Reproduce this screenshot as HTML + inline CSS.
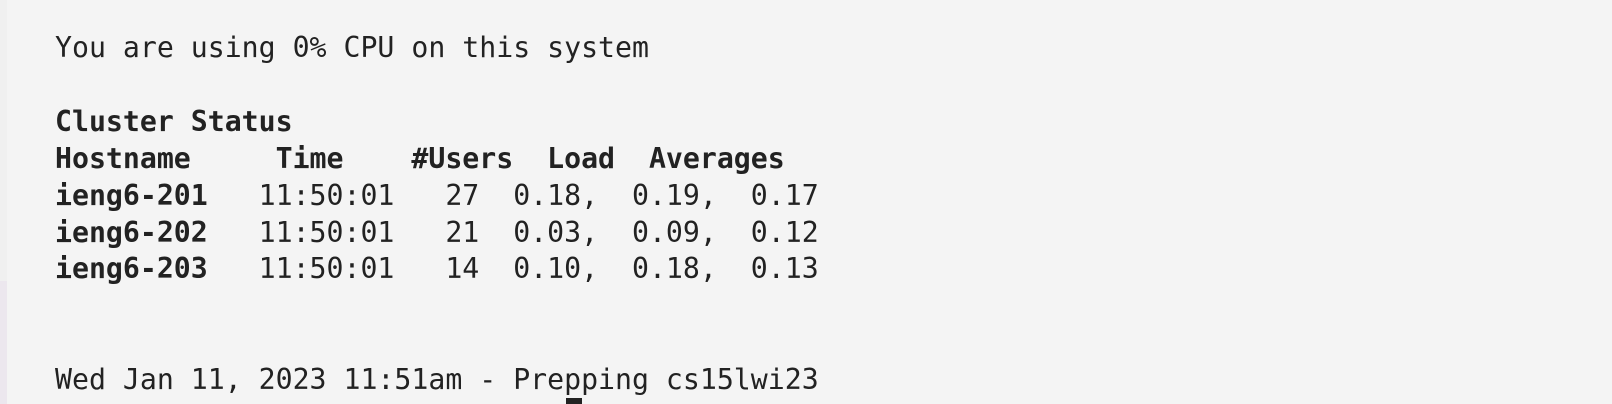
<!DOCTYPE html>
<html><head><meta charset="utf-8"><style>
html,body{margin:0;padding:0;width:1612px;height:404px;overflow:hidden;}
body{background:#f4f4f4;position:relative;}
#strip-top{position:absolute;left:0;top:0;width:7px;height:281px;background:#f0f0f0;}
#strip{position:absolute;left:0;top:281px;width:7px;height:123px;background:#ece7ee;}
pre{position:absolute;left:55px;top:30px;margin:0;font-family:"DejaVu Sans Mono","Liberation Mono",monospace;font-size:28.2px;line-height:36.9px;color:#222;}
b{font-weight:bold;}
#cursor{position:absolute;left:566px;top:398px;width:16px;height:6px;background:#222;}
</style></head><body>
<div id="strip-top"></div>
<div id="strip"></div>
<pre>You are using 0% CPU on this system

<b>Cluster Status</b>
<b>Hostname     Time    #Users  Load  Averages</b>
<b>ieng6-201</b>   11:50:01   27  0.18,  0.19,  0.17
<b>ieng6-202</b>   11:50:01   21  0.03,  0.09,  0.12
<b>ieng6-203</b>   11:50:01   14  0.10,  0.18,  0.13


Wed Jan 11, 2023 11:51am - Prepping cs15lwi23</pre>
<div id="cursor"></div>
</body></html>
